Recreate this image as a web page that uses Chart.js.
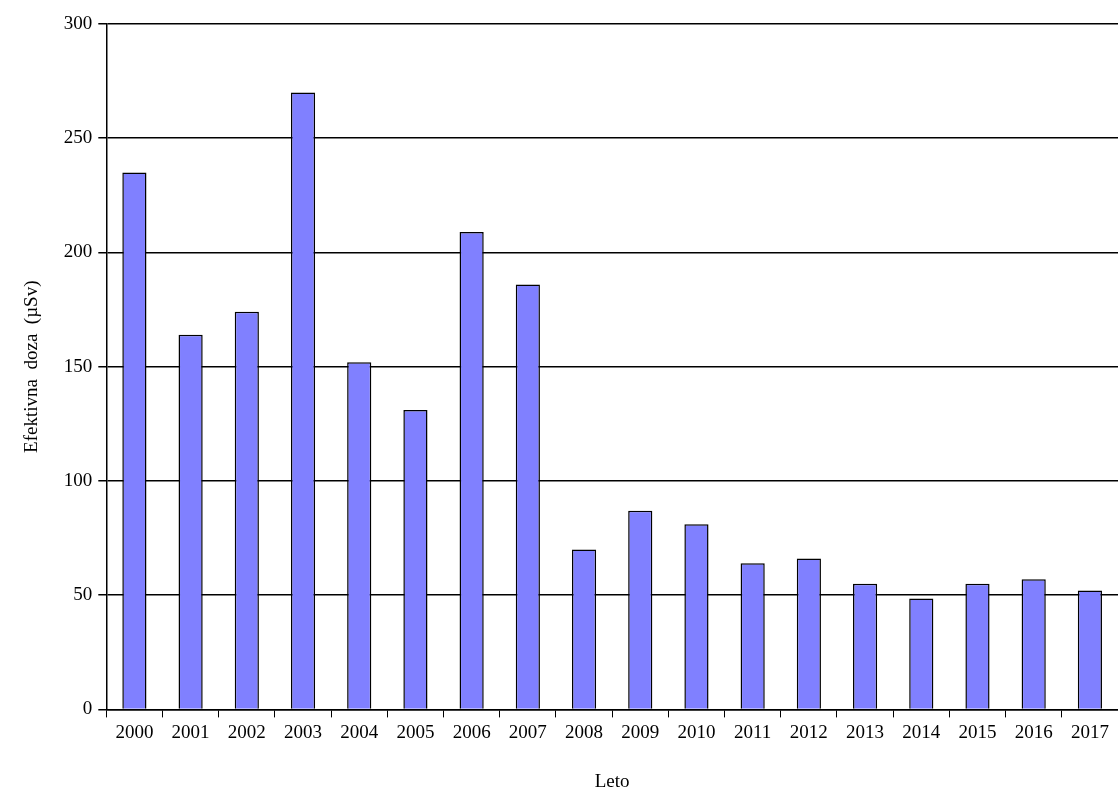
<!DOCTYPE html>
<html lang="sl">
<head>
    <meta charset="UTF-8">
    <title>Efektivna doza</title>
    <script src="https://cdn.jsdelivr.net/npm/chart.js"></script>
    <style>
        body { margin: 0; background: #fff; }
        #wrap { width: 1118px; height: 803px; }
    </style>
</head>
<body>
    <div id="wrap"><canvas id="chart"></canvas></div>
    <script>
        const years = ['2000', '2001', '2002', '2003', '2004', '2005', '2006', '2007', '2008',
            '2009', '2010', '2011', '2012', '2013', '2014', '2015', '2016', '2017'];
        const doses = [235, 164, 174, 270, 152, 131, 209, 186, 70, 87, 81, 64, 66, 55, 48.5, 55, 57, 52];

        Chart.defaults.font.family = '"Liberation Serif", "Times New Roman", serif';
        Chart.defaults.color = '#000';

        new Chart(document.getElementById('chart'), {
            type: 'bar',
            data: {
                labels: years,
                datasets: [{
                    data: doses,
                    backgroundColor: '#8080ff',
                    borderColor: '#000',
                    borderWidth: 1.5,
                    borderSkipped: 'bottom',
                    categoryPercentage: 1,
                    barPercentage: 0.43
                }]
            },
            options: {
                responsive: true,
                maintainAspectRatio: false,
                animation: false,
                layout: { padding: { top: 24, right: 0, bottom: 6, left: 17 } },
                plugins: { legend: { display: false }, tooltip: { enabled: false } },
                scales: {
                    x: {
                        grid: { offset: true, drawOnChartArea: false, color: '#000', tickLength: 8 },
                        border: { color: '#000', width: 1.5 },
                        ticks: { font: { size: 19 }, maxRotation: 0, padding: 4 },
                        title: { display: true, text: 'Leto', font: { size: 19 }, padding: { top: 22 } }
                    },
                    y: {
                        min: 0, max: 300,
                        ticks: { stepSize: 50, font: { size: 19 }, padding: 6 },
                        grid: { color: '#000', lineWidth: 1.5, tickLength: 8 },
                        border: { color: '#000', width: 1.5 },
                        title: { display: true, text: 'Efektivna  doza  (µSv)', font: { size: 19 }, padding: { bottom: 14 } }
                    }
                }
            }
        });
    </script>
</body>
</html>
